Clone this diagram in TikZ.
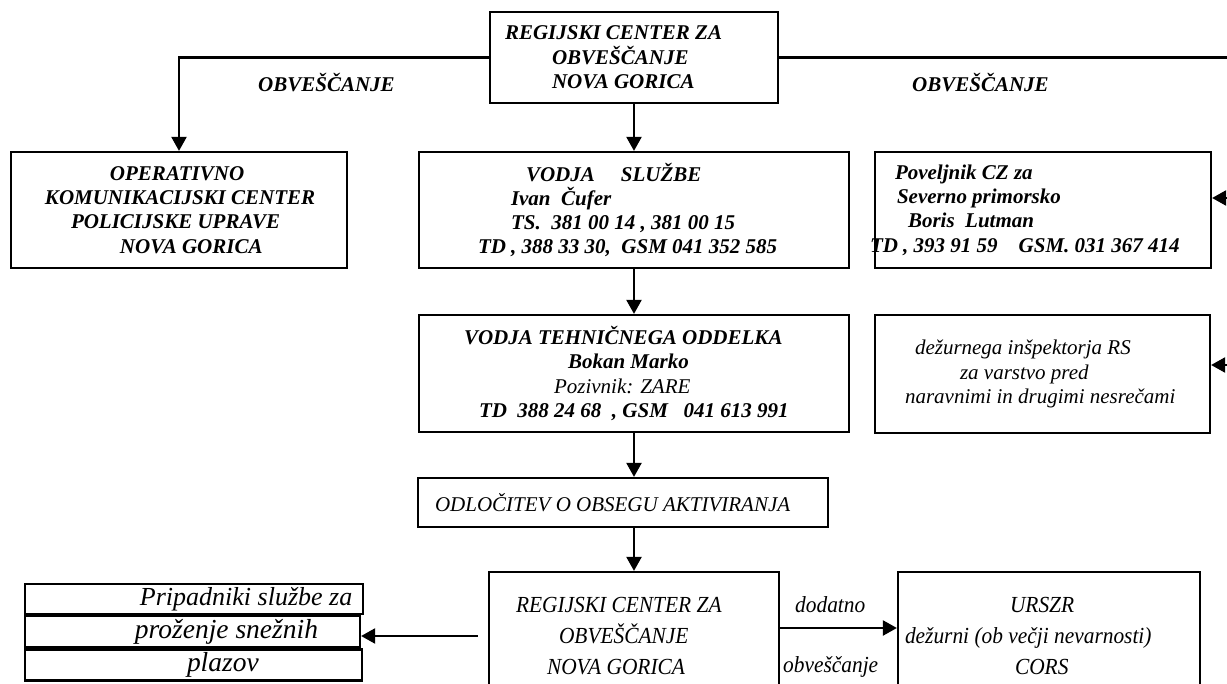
\documentclass[tikz,border=0pt]{standalone}
\usepackage{fontspec}
\setmainfont{Liberation Serif}
\newfontfamily\narrowfont[FakeStretch=0.93]{Liberation Serif}
\usetikzlibrary{arrows.meta,positioning,calc}
\newcommand{\txtsize}{\fontsize{21}{24.3}\selectfont}
\newcommand{\lowsize}{\fontsize{23}{31}\selectfont}
\tikzset{
    box/.style={rectangle, draw, line width=2.2pt, inner sep=0pt, align=flush left, font=\txtsize\bfseries\itshape},
    thinbox/.style={box, font=\txtsize\itshape},
    lowbox/.style={box, font=\narrowfont\lowsize\itshape},
    stackbox/.style={box, font=\fontsize{26}{28}\selectfont\itshape},
    bigstack/.style={box, font=\fontsize{27.5}{29}\selectfont\itshape},
    lbl/.style={font=\txtsize\bfseries\itshape, inner sep=0pt, anchor=west},
    smalllbl/.style={font=\narrowfont\lowsize\itshape, inner sep=0pt, anchor=west},
    flow/.style={-{Triangle[length=14pt, width=15pt]}, line width=2.2pt},
    bus/.style={line width=2.2pt},
}

\begin{document}
\begin{tikzpicture}[x=1pt, y=-1pt]
    \useasboundingbox (0,0) rectangle (1227,684);
    \clip (0,0) rectangle (1227,684);

    % top row
    \node[box, minimum width=288, minimum height=91, text width=288] (rc) at (634,57.5) {%
        \hspace*{15pt}REGIJSKI CENTER ZA \\
        \hspace*{62pt}OBVEŠČANJE \\
        \hspace*{62pt}NOVA GORICA};
    \node[box, minimum width=336, minimum height=116, text width=336] (okc) at (179,210) {%
        \hspace*{99pt}OPERATIVNO \\
        \hspace*{34pt}KOMUNIKACIJSKI CENTER \\
        \hspace*{60pt}POLICIJSKE UPRAVE \\
        \hspace*{109pt}NOVA GORICA};
    \node[box, minimum width=430, minimum height=116, text width=430] (slb) at (634,210) {%
        \hspace*{107pt}VODJA\hspace*{26pt}SLUŽBE \\
        \hspace*{92pt}Ivan\ \ Čufer \\
        \hspace*{92pt}TS.\ \ 381 00 14 , 381 00 15 \\
        \hspace*{59pt}TD , 388 33 30,\ \ GSM 041 352 585};
    \node[box, minimum width=336, minimum height=116, text width=336] (pov) at (1043,210) {%
        \hspace*{20pt}Poveljnik CZ za \\
        \hspace*{22pt}Severno primorsko \\
        \hspace*{33pt}Boris\ \ Lutman \\
        \hspace*{-5pt}TD , 393 91 59\ \ \ \ GSM. 031 367 414};

    % second row
    \node[box, minimum width=430, minimum height=117, text width=430] (teh) at (634,373.5) {%
        \hspace*{45pt}VODJA TEHNIČNEGA ODDELKA \\
        \hspace*{149pt}Bokan Marko \\
        \hspace*{135pt}{\mdseries Pozivnik: ZARE} \\
        \hspace*{60pt}TD\ \ 388 24 68\ \ , GSM\ \ \ 041 613 991};
    \node[thinbox, minimum width=335, minimum height=118, text width=335] (dez) at (1042.5,374) {%
        \hspace*{40pt}dežurnega inšpektorja RS \\
        \hspace*{85pt}za varstvo pred \\
        \hspace*{30pt}naravnimi in drugimi nesrečami\par\vspace*{16pt}};

    \node[thinbox, minimum width=410, minimum height=49, text width=410] (odl) at (623,502.5) {%
        \hspace*{17pt}ODLOČITEV O OBSEGU AKTIVIRANJA};

    % bottom row
    \node[lowbox, minimum width=290, minimum height=128, text width=290] (rcb) at (634,636) {%
        \hspace*{27pt}REGIJSKI CENTER ZA \\
        \hspace*{70pt}OBVEŠČANJE \\
        \hspace*{58pt}NOVA GORICA};
    \node[lowbox, minimum width=302, minimum height=128, text width=302] (urs) at (1049,636) {%
        \hspace*{112pt}URSZR \\
        \hspace*{7pt}dežurni (ob večji nevarnosti) \\
        \hspace*{117pt}CORS};

    \node[stackbox, minimum width=338, minimum height=30, text width=338] (pr1) at (194,599) {%
        \hspace*{115pt}Pripadniki službe za};
    \node[bigstack, minimum width=335, minimum height=31, text width=335, anchor=north west] (pr2) at (pr1.south west) {%
        \hspace*{110pt}proženje snežnih};
    \node[bigstack, minimum width=337, minimum height=31, text width=337, anchor=north west] (pr3) at (pr2.south west) {%
        \hspace*{162pt}plazov};

    % labels
    \node[lbl] (obvl) at (258,83) {OBVEŠČANJE};
    \node[lbl] (obvr) at (912,83) {OBVEŠČANJE};
    \node[smalllbl] (dod) at (795,605) {dodatno};
    \node[smalllbl] (obv) at (783,667) {obveščanje};

    % connectors
    \coordinate (rbus) at (1240,57.5);
    \coordinate (povin) at ([yshift=12pt]pov.east);
    \coordinate (dezin) at ([yshift=9pt]dez.east);
    \coordinate (rcbout) at ([yshift=8pt]rcb.east);

    \draw[flow] (rc.west) -| (okc.north);
    \draw[bus] (rc.east) -- (rbus) -- (rbus |- dezin);
    \draw[flow] (rbus |- povin) -- (povin);
    \draw[flow] (rbus |- dezin) -- (dezin);
    \draw[flow] (rc.south) -- (slb.north);
    \draw[flow] (slb.south) -- (teh.north);
    \draw[flow] (teh.south) -- (teh.south |- odl.north);
    \draw[flow] (rcb.north |- odl.south) -- (rcb.north);
    \draw[flow] (rcbout) -- (rcbout -| urs.west);
    \draw[flow, shorten <=10pt] (rcb.west) -- (rcb.west -| pr2.east);
\end{tikzpicture}
\end{document}
